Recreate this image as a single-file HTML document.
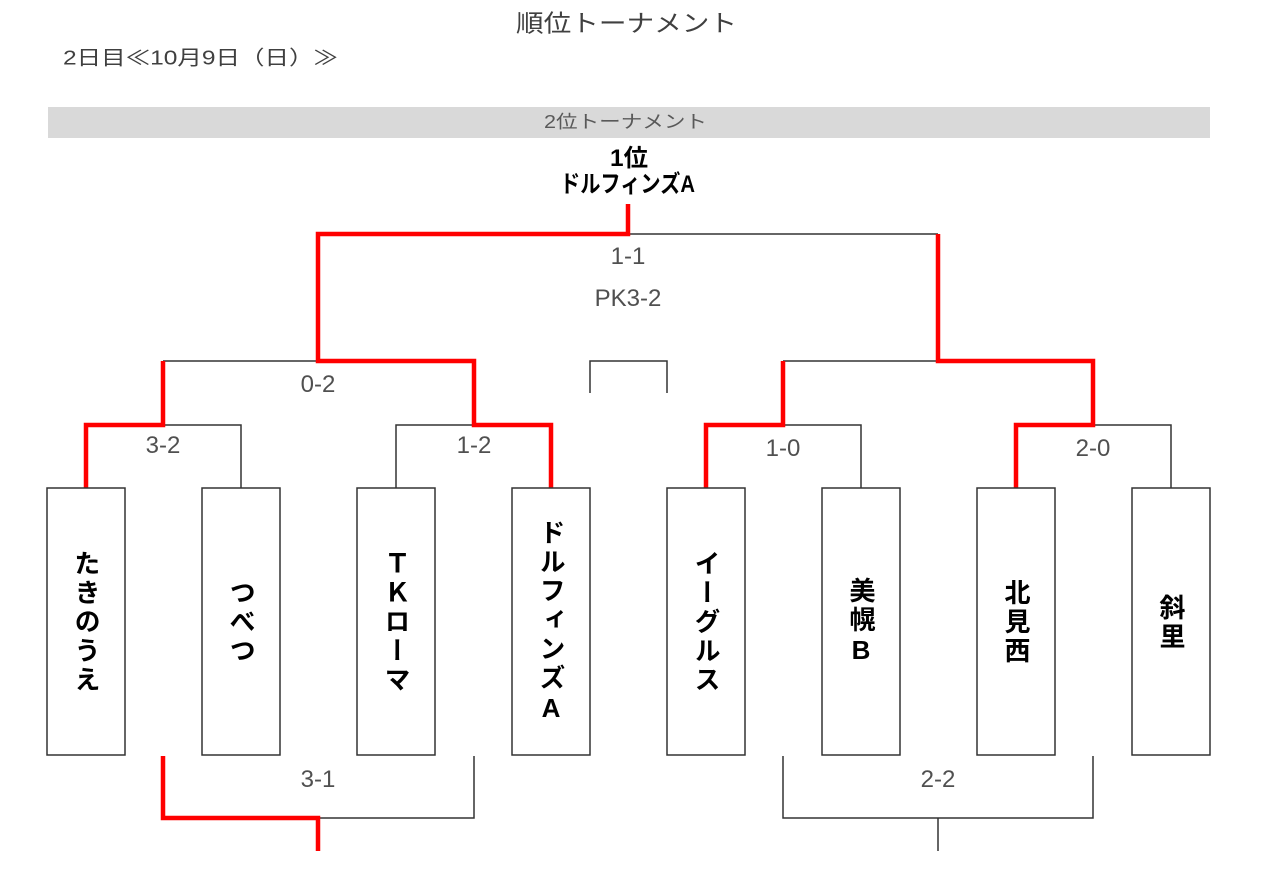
<!DOCTYPE html>
<html lang="ja">
<head>
<meta charset="utf-8">
<style>
  html, body { margin:0; padding:0; background:#fff; }
  body { width:1280px; height:881px; position:relative; overflow:hidden; }
  svg { position:absolute; left:0; top:0; }
  .vt {
    position:absolute; top:488px; width:78px; height:267px;
    display:flex; align-items:center; justify-content:center;
  }
  .vt span {
    writing-mode: vertical-rl;
    text-orientation: upright;
    font-family: "Liberation Sans", "Noto Sans CJK JP", sans-serif;
    font-weight: 700;
    font-size: 26px;
    letter-spacing: 3px;
    color:#000;
    line-height:1;
    margin-top:2px;
  }
</style>
</head>
<body>
<svg width="1280" height="881" viewBox="0 0 1280 881" xmlns="http://www.w3.org/2000/svg">
  <!-- headings -->
  <text x="516" y="31.5" font-family="Liberation Sans, Noto Sans CJK JP, sans-serif" font-size="24" fill="#404040" textLength="221" lengthAdjust="spacingAndGlyphs">順位トーナメント</text>
  <text x="63" y="64.5" font-family="Liberation Sans, Noto Sans CJK JP, sans-serif" font-size="20" fill="#404040" textLength="275" lengthAdjust="spacingAndGlyphs">2日目≪10月9日（日）≫</text>

  <rect x="48" y="107" width="1162" height="31" fill="#d9d9d9"/>
  <text x="544" y="128" font-family="Liberation Sans, Noto Sans CJK JP, sans-serif" font-size="18" fill="#595959" textLength="163" lengthAdjust="spacingAndGlyphs">2位トーナメント</text>

  <text x="610" y="166" font-family="Liberation Sans, Noto Sans CJK JP, sans-serif" font-size="24" font-weight="700" fill="#000" textLength="38" lengthAdjust="spacingAndGlyphs">1位</text>
  <text x="560" y="192" font-family="Liberation Sans, Noto Sans CJK JP, sans-serif" font-size="24" font-weight="700" fill="#000" textLength="135" lengthAdjust="spacingAndGlyphs">ドルフィンズA</text>

  <!-- black connectors -->
  <g fill="none" stroke="#333" stroke-width="1.5">
    <path d="M628 234 H938"/>
    <path d="M163 361 H318"/>
    <path d="M590 393 V361 H667 V393"/>
    <path d="M783 361 H938"/>
    <path d="M163 425 H241 V488"/>
    <path d="M396 488 V425 H474"/>
    <path d="M783 425 H861 V488"/>
    <path d="M1093 425 H1171 V488"/>
    <path d="M318 818 H474 V756"/>
    <path d="M783 756 V818 H1093 V756"/>
    <path d="M938 818 V851"/>
  </g>

  <!-- red winner paths -->
  <g fill="none" stroke="#ff0000" stroke-width="4.5" stroke-linejoin="miter">
    <path d="M628 204 V234 H318 V361 H474 V425 H551 V488"/>
    <path d="M938 234 V361 H1093 V425 H1016 V488"/>
    <path d="M163 361 V425 H86 V488"/>
    <path d="M783 361 V425 H706 V488"/>
    <path d="M163 756 V818 H318 V851"/>
  </g>

  <!-- team boxes -->
  <g fill="#fff" stroke="#333" stroke-width="1.5">
    <rect x="47" y="488" width="78" height="267"/>
    <rect x="202" y="488" width="78" height="267"/>
    <rect x="357" y="488" width="78" height="267"/>
    <rect x="512" y="488" width="78" height="267"/>
    <rect x="667" y="488" width="78" height="267"/>
    <rect x="822" y="488" width="78" height="267"/>
    <rect x="977" y="488" width="78" height="267"/>
    <rect x="1132" y="488" width="78" height="267"/>
  </g>

  <!-- scores -->
  <g font-family="Liberation Sans, Noto Sans CJK JP, sans-serif" font-size="24" fill="#505050" text-anchor="middle">
    <text x="628" y="264">1-1</text>
    <text x="628" y="306">PK3-2</text>
    <text x="318" y="392">0-2</text>
    <text x="163" y="453">3-2</text>
    <text x="474" y="453">1-2</text>
    <text x="783" y="456">1-0</text>
    <text x="1093" y="456">2-0</text>
    <text x="318" y="787">3-1</text>
    <text x="938" y="787">2-2</text>
  </g>
</svg>

<div class="vt" style="left:47px"><span>たきのうえ</span></div>
<div class="vt" style="left:202px"><span>つべつ</span></div>
<div class="vt" style="left:357px"><span>ＴＫローマ</span></div>
<div class="vt" style="left:512px"><span>ドルフィンズA</span></div>
<div class="vt" style="left:667px"><span>イーグルス</span></div>
<div class="vt" style="left:822px"><span>美幌B</span></div>
<div class="vt" style="left:977px"><span>北見西</span></div>
<div class="vt" style="left:1132px"><span>斜里</span></div>
</body>
</html>
